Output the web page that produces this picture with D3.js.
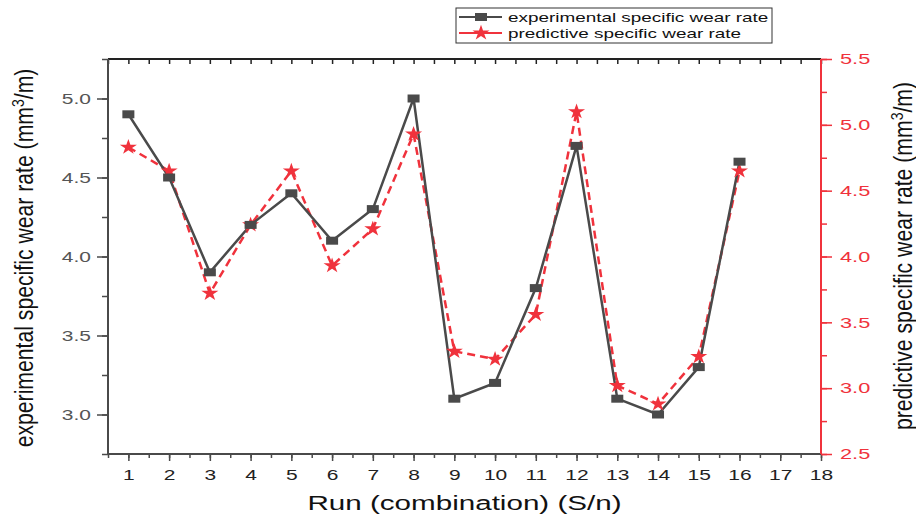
<!DOCTYPE html>
<html><head><meta charset="utf-8">
<script src="https://cdn.jsdelivr.net/npm/d3@7"></script>
<style>body{margin:0;background:#fff}svg{display:block}</style>
</head><body>
<svg id="c" width="916" height="518"></svg>
<script>
const runs = [1,2,3,4,5,6,7,8,9,10,11,12,13,14,15,16];
const experimental = [4.9,4.5,3.9,4.2,4.4,4.1,4.3,5.0,3.1,3.2,3.8,4.7,3.1,3.0,3.3,4.6];
const predictive = [4.83,4.65,3.72,4.24,4.65,3.93,4.21,4.93,3.28,3.22,3.56,5.10,3.02,2.88,3.24,4.65];
const xTicks = [1,2,3,4,5,6,7,8,9,10,11,12,13,14,15,16,17,18];
const leftTicks = [3.0,3.5,4.0,4.5,5.0];
const rightTicks = [2.5,3.0,3.5,4.0,4.5,5.0,5.5];
const seriesNames = ["experimental specific wear rate","predictive specific wear rate"];

const gray = "#4a4a4a", red = "#f0323c", labGray = "#555";
const L = 108, R = 821, T = 59, B = 454;
const svg = d3.select("#c");
const x = d3.scaleLinear().domain([0.5,18]).range([L,R]);
const yL = d3.scaleLinear().domain([2.75,5.25]).range([B,T]);
const yR = d3.scaleLinear().domain([2.5,5.5]).range([B,T]);
const font = "'Liberation Sans', Arial, sans-serif";

function stretch(sel, s){
  sel.each(function(){
    const t = d3.select(this);
    const x0 = +t.attr("x") || 0;
    t.attr("x",0).attr("transform",`translate(${x0},0) scale(${s},1)`);
  });
}

const xMinor = d3.range(0.5, 18.01, 0.5);
// bottom axis
const gb = svg.append("g").attr("transform",`translate(0,${B})`)
  .call(d3.axisBottom(x).tickValues(xMinor).tickSize(4).tickFormat(""));
gb.selectAll("line").attr("stroke",gray).attr("stroke-width",1.5);
gb.select(".domain").remove();
const gb2 = svg.append("g").attr("transform",`translate(0,${B})`)
  .call(d3.axisBottom(x).tickValues(xTicks).tickSize(7).tickPadding(8).tickFormat(d3.format("d")));
gb2.select(".domain").remove();
gb2.selectAll("line").attr("stroke",gray).attr("stroke-width",1.5);
gb2.selectAll("text").attr("font-family",font).attr("font-size",15).attr("fill","#222");
stretch(gb2.selectAll("text"), 1.4);
// top axis (inward ticks)
const gt = svg.append("g").attr("transform",`translate(0,${T})`)
  .call(d3.axisBottom(x).tickValues(xMinor).tickSize(5).tickFormat(""));
gt.select(".domain").remove();
gt.selectAll("line").attr("stroke","#222").attr("stroke-width",1.5);

// left axis
const gl = svg.append("g").attr("transform",`translate(${L},0)`)
  .call(d3.axisLeft(yL).tickValues(d3.range(2.75,5.26,0.25)).tickSize(6).tickFormat(""));
gl.select(".domain").remove();
gl.selectAll("line").attr("stroke",gray).attr("stroke-width",1.5);
const gl2 = svg.append("g").attr("transform",`translate(${L},0)`)
  .call(d3.axisLeft(yL).tickValues(leftTicks).tickSize(11).tickPadding(6).tickFormat(d3.format(".1f")));
gl2.select(".domain").remove();
gl2.selectAll("line").attr("stroke",gray).attr("stroke-width",1.5);
gl2.selectAll("text").attr("font-family",font).attr("font-size",15).attr("fill",labGray);
stretch(gl2.selectAll("text"), 1.4);

// right axis
const gr = svg.append("g").attr("transform",`translate(${R},0)`)
  .call(d3.axisRight(yR).tickValues(d3.range(2.5,5.51,0.25)).tickSize(6).tickFormat(""));
gr.select(".domain").remove();
gr.selectAll("line").attr("stroke",red).attr("stroke-width",1.5);
const gr2 = svg.append("g").attr("transform",`translate(${R},0)`)
  .call(d3.axisRight(yR).tickValues(rightTicks).tickSize(11).tickPadding(8).tickFormat(d3.format(".1f")));
gr2.select(".domain").remove();
gr2.selectAll("line").attr("stroke",red).attr("stroke-width",1.5);
gr2.selectAll("text").attr("font-family",font).attr("font-size",15).attr("fill",red);
stretch(gr2.selectAll("text"), 1.45);

// frame
svg.append("line").attr("x1",L).attr("x2",R).attr("y1",T).attr("y2",T).attr("stroke","#222").attr("stroke-width",2);
svg.append("line").attr("x1",L).attr("x2",R).attr("y1",B).attr("y2",B).attr("stroke",gray).attr("stroke-width",2);
svg.append("line").attr("x1",L).attr("x2",L).attr("y1",T).attr("y2",B).attr("stroke",gray).attr("stroke-width",2);
svg.append("line").attr("x1",R).attr("x2",R).attr("y1",T).attr("y2",B).attr("stroke",red).attr("stroke-width",2);

// series
const lineE = d3.line().x((d,i)=>x(runs[i])).y(d=>yL(d));
const lineP = d3.line().x((d,i)=>x(runs[i])).y(d=>yR(d));
svg.append("path").attr("d",lineP(predictive)).attr("fill","none").attr("stroke",red)
  .attr("stroke-width",2.5).attr("stroke-dasharray","8,5");
svg.append("path").attr("d",lineE(experimental)).attr("fill","none").attr("stroke",gray).attr("stroke-width",2.5);
const star = d3.symbol().type(d3.symbolStar).size(75);
svg.selectAll(".st").data(predictive).enter().append("path")
  .attr("d",star).attr("transform",(d,i)=>`translate(${x(runs[i])},${yR(d)}) scale(1.1,1)`).attr("fill",red);
svg.selectAll(".sq").data(experimental).enter().append("rect")
  .attr("x",(d,i)=>x(runs[i])-6).attr("y",d=>yL(d)-4).attr("width",12).attr("height",8).attr("fill",gray);

// axis titles
svg.append("text").attr("transform",`translate(33,258) rotate(-90) scale(1,1.2)`).attr("text-anchor","middle")
  .attr("font-family",font).attr("font-size",21.2).attr("fill","#111")
  .html(`experimental specific wear rate (mm<tspan baseline-shift="super" font-size="14">3</tspan>/m)`);
svg.append("text").attr("transform",`translate(912,256) rotate(-90) scale(1,1.2)`).attr("text-anchor","middle")
  .attr("font-family",font).attr("font-size",21.2).attr("fill","#111")
  .html(`predictive specific wear rate (mm<tspan baseline-shift="super" font-size="14">3</tspan>/m)`);
svg.append("text").attr("transform",`translate(${(L+R)/2},510) scale(1.48,1)`).attr("text-anchor","middle")
  .attr("font-family",font).attr("font-size",20).attr("fill","#111").text("Run (combination) (S/n)");

// legend
const lg = svg.append("g");
lg.append("rect").attr("x",456).attr("y",8).attr("width",316).attr("height",35).attr("fill","#fff").attr("stroke","#333").attr("stroke-width",1);
lg.append("line").attr("x1",459).attr("x2",502).attr("y1",17).attr("y2",17).attr("stroke",gray).attr("stroke-width",2);
lg.append("rect").attr("x",475).attr("y",13).attr("width",12).attr("height",8).attr("fill",gray);
lg.append("line").attr("x1",459).attr("x2",502).attr("y1",33).attr("y2",33).attr("stroke",red).attr("stroke-width",2);
lg.append("path").attr("d",star).attr("transform","translate(481,33) scale(1.1,1)").attr("fill",red);
lg.selectAll(".lt").data(seriesNames).enter().append("text")
  .attr("transform",(d,i)=>`translate(508,${22+i*16}) scale(1.4,1)`)
  .attr("font-family",font).attr("font-size",13.5).attr("fill","#111").text(d=>d);
</script>
</body></html>
